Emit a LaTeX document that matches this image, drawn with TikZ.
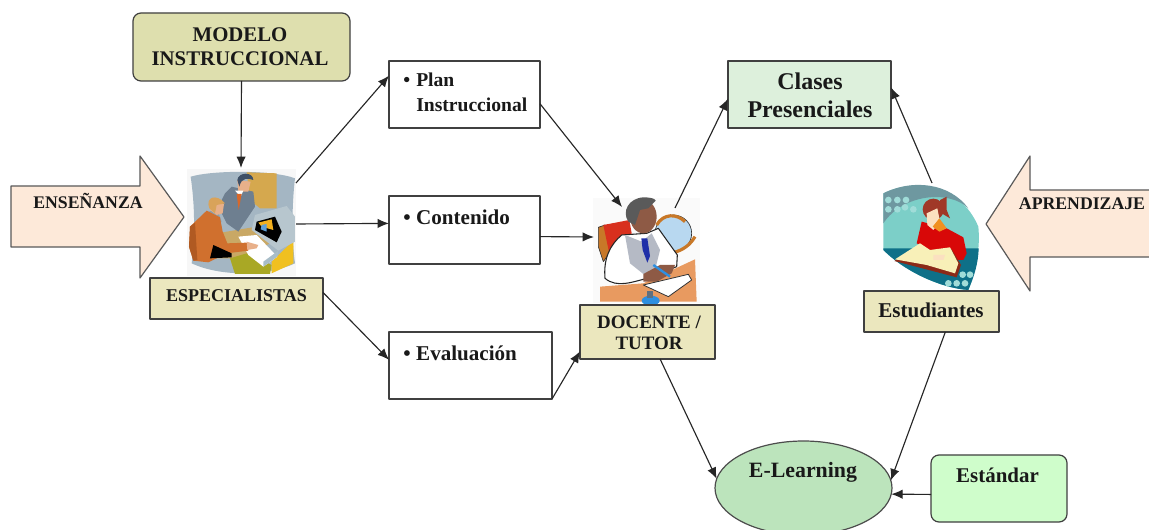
\documentclass[tikz,border=0pt]{standalone}
\usepackage{fontspec}
\setmainfont{Liberation Serif}
\usetikzlibrary{arrows.meta,shapes.geometric}
\definecolor{tanfill}{HTML}{EBE7BE}
\definecolor{peach}{HTML}{FDE9D9}
\definecolor{spBg}{HTML}{A4B6C3}
\definecolor{spPanel}{HTML}{D5A84E}
\definecolor{spDesk}{HTML}{C9A865}
\definecolor{spOlive}{HTML}{A9A825}
\definecolor{spYellow}{HTML}{F0C020}
\definecolor{spSuit}{HTML}{6E7F90}
\definecolor{skin}{HTML}{E8B08A}
\definecolor{spHair}{HTML}{3D4F66}
\definecolor{spOrange}{HTML}{D8682A}
\definecolor{spMon}{HTML}{B7C6CE}
\definecolor{spGold}{HTML}{F2B01E}
\definecolor{spBlue}{HTML}{5FA0D8}
\definecolor{spKey}{HTML}{A8BDC8}
\definecolor{spCollar}{HTML}{8E9EA8}
\definecolor{spCoat}{HTML}{D0702E}
\definecolor{spCoatD}{HTML}{B05A22}
\definecolor{spBlond}{HTML}{D9A35A}
\definecolor{teOrange}{HTML}{C87828}
\definecolor{teRed}{HTML}{D8301E}
\definecolor{teGlobe}{HTML}{B8D8F0}
\definecolor{teDesk}{HTML}{E89A60}
\definecolor{teVest}{HTML}{B5BAC5}
\definecolor{teTie}{HTML}{1F2FA8}
\definecolor{teSkin}{HTML}{8E5A45}
\definecolor{teHair}{HTML}{5A5A5A}
\definecolor{tePen}{HTML}{2E8FE0}
\definecolor{teMetal}{HTML}{607080}
\definecolor{stBg}{HTML}{7CCFC8}
\definecolor{stBand}{HTML}{6E98A0}
\definecolor{stFloor}{HTML}{0E7088}
\definecolor{stDot}{HTML}{A0DCD8}
\definecolor{stRed}{HTML}{D80808}
\definecolor{stHair}{HTML}{A03828}
\definecolor{stSkin}{HTML}{FBE0C0}
\definecolor{stCollar}{HTML}{F09020}
\definecolor{stCover}{HTML}{8B2A18}
\definecolor{stPage}{HTML}{F8F0B8}
\definecolor{modelFill}{HTML}{DEDFAE}
\definecolor{clasesFill}{HTML}{DDF0DC}
\definecolor{elearnFill}{HTML}{BCE4BC}
\definecolor{estFill}{HTML}{CFFDCB}
\tikzset{
  box/.style={draw=black!75,line width=0.9pt,inner sep=0pt,outer sep=0pt,fill=white},
  tanbox/.style={box,fill=tanfill},
  lbl/.style={inner sep=0pt,align=center,text=black!90},
  lbll/.style={inner sep=0pt,align=left,anchor=north west,text=black!90},
  arr/.style={draw=black!85,line width=0.85pt,-{Latex[length=8.5pt,width=7pt]}},
  bigarrow/.style={draw=black!65,line width=0.9pt,fill=peach},
  ink/.style={draw=black!80,line width=0.5pt}
}
\newcommand{\fz}[2]{\bfseries\fontsize{#1pt}{#2pt}\selectfont}
\begin{document}
\begin{tikzpicture}[x=0.75pt,y=-0.75pt,line join=round]
\useasboundingbox (0,0) rectangle (1149,530);
\clip (0,0) rectangle (1149,530);
\fill[white] (0,0) rectangle (1149,530);

% big arrows
\draw[bigarrow] (11,186) -- (140,186) -- (140,156) -- (184,217) -- (140,278) -- (140,247) -- (11,247) -- cycle;
\draw[bigarrow] (1160,190) -- (1030,190) -- (1030,156) -- (986,224) -- (1030,291) -- (1030,257) -- (1160,257);
\node[lbl,font=\fz{13.3}{16}] (ensenanza) at (88,201) {ENSEÑANZA};
\node[lbl,font=\fz{13.3}{16}] (aprendizaje) at (1082,204) {APRENDIZAJE};

% specialists picture
\begin{scope}[shift={(0,0)},scale=1/3]
\fill[black!3] (562,506) rectangle (888,828);
\fill[spBg] (572,530) .. controls (640,510) and (820,510) .. (885,535) .. controls (875,620) and (875,720) .. (885,790) .. controls (800,830) and (660,830) .. (575,790) .. controls (585,700) and (585,620) .. (572,530) -- cycle;
\fill[spPanel] (740,517) -- (830,520) -- (830,625) -- (780,625) -- (750,600) -- cycle;
\fill[spDesk] (650,700) -- (770,680) -- (810,730) -- (720,775) -- (640,775) -- cycle;
\fill[spOlive] (690,775) -- (740,760) -- (815,795) -- (810,822) -- (705,822) -- cycle;
\fill[spYellow] (815,785) -- (880,722) -- (880,790) -- (815,820) -- cycle;
\fill[spSuit] (695,560) -- (760,575) -- (765,620) -- (745,650) -- (715,695) -- (680,670) -- (655,620) -- (675,580) -- cycle;
\fill[skin] (712,540) -- (752,545) -- (745,575) -- (715,575) -- cycle;
\fill[spHair] (712,540) .. controls (715,515) and (760,515) .. (760,540) .. controls (745,535) and (725,530) .. (718,560) -- cycle;
\fill[white] (705,572) -- (730,572) -- (722,590) -- cycle;
\fill[spOrange] (710,582) -- (725,582) -- (716,630) -- cycle;
\fill[spMon] (765,645) -- (860,618) -- (885,650) -- (885,725) -- (835,752) -- (755,690) -- cycle;
\fill[black] (770,665) -- (825,650) -- (845,695) -- (830,727) -- (765,690) -- cycle;
\fill[spGold] (775,668) -- (815,658) -- (820,690) -- (785,680) -- cycle;
\fill[spBlue] (785,675) -- (800,672) -- (800,695) -- (782,688) -- cycle;
\fill[white] (715,710) -- (770,705) -- (832,770) -- (790,800) -- (745,765) -- cycle;
\fill[spKey] (790,800) -- (832,770) -- (835,752) -- (790,785) -- cycle;
\fill[spCollar] (615,640) -- (650,625) -- (665,665) -- (640,660) -- cycle;
\fill[spCoat] (570,680) -- (620,632) -- (660,652) -- (668,695) -- (682,730) -- (740,728) -- (745,752) -- (680,760) -- (625,787) -- (580,782) -- (567,740) -- cycle;
\fill[black] (630,775) -- (640,735) -- (695,760) -- (695,772) -- cycle;
\fill[spCoatD] (570,680) -- (585,668) -- (592,780) -- (580,782) -- (567,740) -- cycle;
\fill[skin] (632,600) -- (672,612) -- (668,640) -- (650,645) -- (630,630) -- cycle;
\fill[spBlond] (628,625) .. controls (615,590) and (650,580) .. (675,610) -- (650,615) -- (645,640) -- cycle;
\fill[skin] (740,725) -- (775,735) -- (770,745) -- (742,750) -- cycle;
\end{scope}

% teacher picture
\begin{scope}[shift={(560,170)},scale=1/3]
\fill[black!2] (100,85) rectangle (420,398);
\fill[teOrange,ink] (115,172) -- (135,165) -- (155,240) -- (130,275) -- (115,230) -- cycle;
\fill[teRed] (130,165) -- (208,150) -- (215,190) -- (150,260) -- cycle;
\filldraw[fill=teGlobe,ink] (340,190) circle [radius=55];
\draw[teOrange,line width=2.4pt] (290,165) .. controls (310,130) and (350,130) .. (375,155);
\draw[teOrange,line width=2.4pt] (405,200) .. controls (390,225) and (370,240) .. (340,248);
\fill[teDesk] (120,350) -- (250,340) -- (405,268) -- (410,395) -- (120,395) -- cycle;
\filldraw[fill=white,draw=black!85,line width=0.8pt] (185,195) .. controls (150,225) and (130,265) .. (135,325) .. controls (170,355) and (220,335) .. (250,328) -- (350,290) -- (352,255) -- (295,175) -- (260,190) -- cycle;
\fill[teVest] (195,195) -- (245,215) -- (275,190) -- (300,240) -- (285,300) -- (250,312) -- (210,280) -- cycle;
\fill[teTie] (244,205) -- (262,205) -- (270,258) -- (262,278) -- (248,240) -- cycle;
\fill[teSkin] (250,140) ellipse [x radius=40,y radius=50];
\fill[teHair] (205,155) .. controls (185,125) and (205,85) .. (250,82) .. controls (270,82) and (285,85) .. (287,92) -- (265,115) -- (240,120) -- (225,165) -- cycle;
\fill[teSkin] (250,312) -- (300,285) -- (345,285) -- (335,310) -- (290,335) -- (250,335) -- cycle;
\filldraw[fill=white,draw=black!80,line width=0.6pt] (250,345) -- (385,313) -- (395,330) -- (325,380) -- cycle;
\draw[tePen,line width=1.8pt] (280,285) -- (330,320);
\fill[tePen] (272,392) ellipse [x radius=27,y radius=15];
\fill[teMetal] (262,362) rectangle (278,385);
\end{scope}

% student picture
\begin{scope}[shift={(850,150)},scale=1/3]
\fill[stBg] (100,130) .. controls (190,85) and (330,100) .. (385,230) .. controls (392,300) and (375,370) .. (355,420) .. controls (280,415) and (170,370) .. (100,300) -- cycle;
\fill[stBand] (100,130) .. controls (190,85) and (300,100) .. (355,175) .. controls (300,120) and (160,130) .. (100,220) -- cycle;
\fill[stFloor] (100,295) -- (386,295) .. controls (385,340) and (372,380) .. (355,420) .. controls (280,415) and (170,370) .. (100,300) -- cycle;
\foreach \p in {(115,150),(142,150),(168,150),(115,178),(142,178),(165,172),(190,178)} \fill[stDot] \p circle [radius=10];
\foreach \p in {(295,400),(320,400),(345,400),(338,374),(360,374)} \fill[stDot] \p circle [radius=10];
\fill[stRed] (200,280) -- (215,215) -- (290,235) -- (340,262) -- (350,310) -- (340,330) -- (280,330) -- (240,300) -- cycle;
\fill[stHair] (250,178) ellipse [x radius=32,y radius=32];
\fill[stHair] (270,150) -- (290,140) -- (290,180) -- (300,205) -- (275,190) -- cycle;
\fill[stSkin] (230,190) -- (262,175) -- (270,215) -- (250,240) -- (232,225) -- cycle;
\fill[stCollar] (248,230) -- (268,205) -- (290,235) -- (268,245) -- cycle;
\fill[stCover] (133,333) -- (210,288) -- (240,305) -- (305,298) -- (333,345) -- (320,382) -- cycle;
\fill[stPage] (135,328) -- (210,280) -- (240,300) -- (300,292) -- (325,340) -- (315,370) -- (230,345) -- cycle;
\fill[stSkin] (250,315) -- (285,315) -- (280,330) -- (250,330) -- cycle;
\end{scope}

% boxes
\node[box,fill=modelFill,rounded corners=6pt,minimum width=217*0.75pt,minimum height=68*0.75pt] (modelo) at (241.5,47) {};
\node[lbl,font=\fz{15.6}{18}] (modelot) at (240,47) {MODELO\\INSTRUCCIONAL};
\node[tanbox,minimum width=173*0.75pt,minimum height=41*0.75pt] (espec) at (236.5,298.5) {};
\node[lbl,font=\fz{13.5}{16}] (espect) at (236.5,295.5) {ESPECIALISTAS};
\node[box,minimum width=151*0.75pt,minimum height=67*0.75pt] (plan) at (464.5,94.5) {};
\node[lbll,font=\fz{14.7}{18.75}] (plant) at (403,72.5) {\makebox[9.75pt][l]{\textbullet}Plan\\\hspace*{9.75pt}Instruccional};
\node[box,minimum width=151*0.75pt,minimum height=68*0.75pt] (cont) at (464.5,230) {};
\node[lbll,font=\fz{15.8}{18}] (contt) at (403,210) {\makebox[9.75pt][l]{\textbullet}Contenido};
\node[box,minimum width=163*0.75pt,minimum height=67*0.75pt] (eval) at (470.5,365.5) {};
\node[lbll,font=\fz{15.8}{18}] (evalt) at (403,346) {\makebox[9.75pt][l]{\textbullet}Evaluación};
\node[tanbox,minimum width=135*0.75pt,minimum height=54*0.75pt] (doc) at (647.5,332) {};
\node[lbl,font=\fz{14.2}{15.8}] (doct) at (649,333) {DOCENTE /\\TUTOR};
\node[box,fill=clasesFill,minimum width=163*0.75pt,minimum height=67*0.75pt] (clases) at (809.5,94.5) {};
\node[lbl,font=\fz{18}{21}] (clasest) at (810,95) {Clases\\Presenciales};
\node[tanbox,minimum width=135*0.75pt,minimum height=41*0.75pt] (estud) at (931.5,311.5) {};
\node[lbl,font=\fz{15.8}{18}] (estudt) at (931,310) {Estudiantes};
\node[box,draw=black!70,fill=elearnFill,shape=ellipse,minimum width=177*0.75pt,minimum height=94*0.75pt] (elearn) at (803.5,488) {};
\node[lbl,font=\fz{16.4}{18}] (elearnt) at (803,472) {E-Learning};
\node[box,fill=estFill,rounded corners=6pt,minimum width=136*0.75pt,minimum height=67*0.75pt] (estandar) at (999,488.5) {};
\node[lbl,font=\fz{15.7}{18}] (estandart) at (997.5,475) {Estándar};

% connector ends on the pictures
\coordinate (espN) at (241,168);
\coordinate (espA) at (296,183);
\coordinate (espB) at (296,224);
\coordinate (docA) at (622,207);
\coordinate (docB) at (594,237);
\coordinate (docC) at (675,208);
\coordinate (estC) at (932,183);

% connectors
\draw[arr] (modelo.south) -- (espN);
\draw[arr] (espA) -- (plan.166);
\draw[arr] (espB) -- (cont.175.5);
\draw[arr] (espec.4.3) -- (eval.176);
\draw[arr] (plan.-7) -- (docA);
\draw[arr] (cont.-5.3) -- (docB);
\draw[arr] (eval.south east) -- (doc.196.5);
\draw[arr] (docC) -- (clases.183.9);
\draw[arr] (doc.-65.2) -- (elearn.174.8);
\draw[arr] (estC) -- (clases.5.3);
\draw[arr] (estud.-56.6) -- (elearn.5.3);
\draw[arr] (estandar.185.5) -- (elearn.-4.5);
\end{tikzpicture}
\end{document}
